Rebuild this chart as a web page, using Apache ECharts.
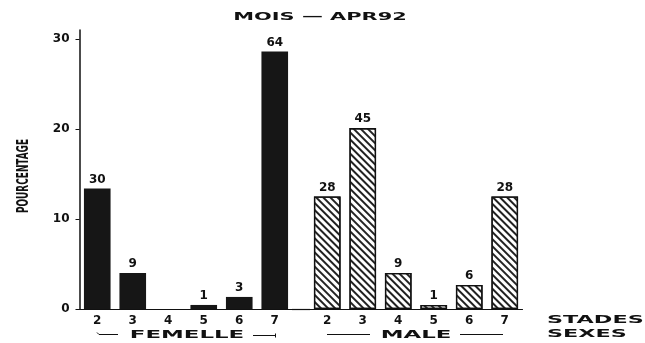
<!DOCTYPE html>
<html>
<head>
<meta charset="utf-8">
<script src="https://cdn.jsdelivr.net/npm/echarts@6/dist/echarts.min.js"></script>
<style>html,body{margin:0;padding:0;background:#fff}#c{width:645px;height:343px}</style>
</head>
<body>
<div id="c"></div>
<script>
const stades = ['2', '3', '4', '5', '6', '7'];
const femellePct = [13.4, 4.0, 0, 0.45, 1.34, 28.6];
const malePct = [12.5, 20.1, 4.0, 0.45, 2.68, 12.5];
const femelleLabels = ['30', '9', '', '1', '3', '64'];
const maleLabels = ['28', '45', '9', '1', '6', '28'];
const yTicks = [0, 10, 20, 30];
const titleText = 'MOIS \u2014 APR92';
const yName = 'POURCENTAGE';

const chart = echarts.init(document.getElementById('c'), null, {renderer: 'canvas'});
const boldFont = 'DejaVu Sans';
const axisLabelStyle = {color: '#111', fontFamily: boldFont, fontWeight: 'bold', fontSize: 12};
const barLabel = (labels) => ({
  show: true, position: 'top', distance: 3,
  color: '#111', fontFamily: boldFont, fontWeight: 'bold', fontSize: 12,
  formatter: (p) => labels[p.dataIndex]
});

// measure the y-name so that it can be squeezed to the condensed look of the original
const nameFont = 'bold 16px "DejaVu Sans Condensed"';
const ctx = document.createElement('canvas').getContext('2d');
ctx.font = nameFont;
const nameScale = 74 / ctx.measureText(yName).width;

const gridTop = 30, gridBottom = 34;
const option = {
  backgroundColor: '#fff',
  animation: false,
  grid: [
    {left: 79.5, width: 213, top: gridTop, bottom: gridBottom},
    {left: 309.5, width: 213, top: gridTop, bottom: gridBottom}
  ],
  xAxis: [
    {type: 'category', gridIndex: 0, data: stades,
     axisLine: {lineStyle: {color: '#111', width: 1.2}}, axisTick: {show: false},
     axisLabel: Object.assign({margin: 6}, axisLabelStyle)},
    {type: 'category', gridIndex: 1, data: stades,
     axisLine: {lineStyle: {color: '#111', width: 1.2}}, axisTick: {show: false},
     axisLabel: Object.assign({margin: 6}, axisLabelStyle)}
  ],
  yAxis: [
    {type: 'value', gridIndex: 0, min: 0, max: 31, interval: 10,
     splitLine: {show: false},
     axisLine: {show: true, lineStyle: {color: '#111', width: 1.5}},
     axisTick: {show: true, length: 4, customValues: yTicks, lineStyle: {color: '#111'}},
     axisLabel: Object.assign({margin: 10, customValues: yTicks}, axisLabelStyle)},
    {type: 'value', gridIndex: 1, min: 0, max: 31, interval: 10, show: false}
  ],
  series: [
    {type: 'bar', xAxisIndex: 0, yAxisIndex: 0, data: femellePct, barCategoryGap: '25%',
     itemStyle: {color: '#161616'}, label: barLabel(femelleLabels)},
    {type: 'bar', xAxisIndex: 1, yAxisIndex: 1, data: malePct, barCategoryGap: '25%',
     itemStyle: {color: '#fff', borderColor: '#111', borderWidth: 1.3,
       decal: {symbol: 'rect', symbolSize: 1, dashArrayX: [[1, 0]], dashArrayY: [2, 2.5],
               rotation: Math.PI / 4, color: '#222'}},
     label: barLabel(maleLabels)}
  ],
  graphic: [
    {type: 'line', shape: {x1: 292, y1: 309.5, x2: 310, y2: 309.5}, style: {stroke: '#111', lineWidth: 1.2}},
    {type: 'text', x: 24, y: 176, rotation: Math.PI / 2, scaleX: nameScale,
     style: {text: yName, fill: '#111', font: nameFont, textAlign: 'center', textVerticalAlign: 'middle'}},
    {type: 'text', x: 320, y: 17, scaleX: 1.9,
     style: {text: titleText, fill: '#111', font: 'bold 11px "DejaVu Sans"', textAlign: 'center', textVerticalAlign: 'middle'}},
    {type: 'text', x: 187, y: 335, scaleX: 2.08,
     style: {text: 'FEMELLE', fill: '#111', font: 'bold 11px "DejaVu Sans"', textAlign: 'center', textVerticalAlign: 'middle'}},
    {type: 'polyline', shape: {points: [[97, 332.5], [99, 334.5], [118, 334.5]]}, style: {stroke: '#111', lineWidth: 1, fill: null}},
    {type: 'polyline', shape: {points: [[253, 335.5], [275, 335.5]]}, style: {stroke: '#111', lineWidth: 1, fill: null}},
    {type: 'line', shape: {x1: 275.5, y1: 333.5, x2: 275.5, y2: 337.5}, style: {stroke: '#111', lineWidth: 1}},
    {type: 'text', x: 416, y: 335, scaleX: 2.08,
     style: {text: 'MALE', fill: '#111', font: 'bold 11px "DejaVu Sans"', textAlign: 'center', textVerticalAlign: 'middle'}},
    {type: 'line', shape: {x1: 327, y1: 334.5, x2: 370, y2: 334.5}, style: {stroke: '#111', lineWidth: 1}},
    {type: 'line', shape: {x1: 460, y1: 334.5, x2: 503, y2: 334.5}, style: {stroke: '#111', lineWidth: 1}},
    {type: 'text', x: 547, y: 320, scaleX: 2.03,
     style: {text: 'STADES', fill: '#111', font: 'bold 11px "DejaVu Sans"', textAlign: 'left', textVerticalAlign: 'middle'}},
    {type: 'text', x: 547, y: 334, scaleX: 2.03,
     style: {text: 'SEXES', fill: '#111', font: 'bold 11px "DejaVu Sans"', textAlign: 'left', textVerticalAlign: 'middle'}}
  ]
};
chart.setOption(option);
</script>
</body>
</html>
